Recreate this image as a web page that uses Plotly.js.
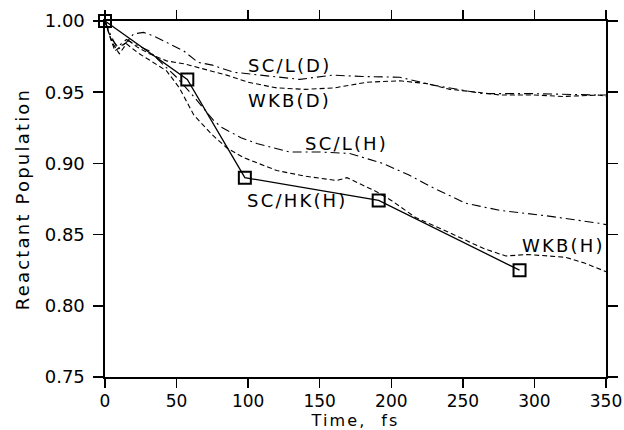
<!DOCTYPE html>
<html>
<head>
<meta charset="utf-8">
<script src="https://cdn.plot.ly/plotly-3.0.1.min.js"></script>
<style>
  html, body { margin: 0; padding: 0; background: #fff; }
  #chart { width: 624px; height: 430px; }
  .annotation-text, .xtitle, .ytitle { letter-spacing: 2.2px; }
</style>
</head>
<body>
<div id="chart"></div>
<script>
// ---- data ----
const scHkT = [0, 57.5, 97.7, 191.2, 289.6];
const scHkV = [1.000, 0.959, 0.890, 0.874, 0.825];

const scLDT = [0, 4, 9, 15, 20, 27, 35, 45, 55, 65, 75, 90, 110, 136, 159, 180, 206, 229, 264, 299, 345, 350];
const scLDV = [1.000, 0.990, 0.980, 0.985, 0.991, 0.992, 0.989, 0.984, 0.979, 0.971, 0.969, 0.964, 0.962, 0.959, 0.962, 0.961, 0.9605, 0.955, 0.949, 0.949, 0.948, 0.948];

const wkbDT = [0, 3, 7, 12, 17, 22, 31, 43, 55, 66, 85, 100, 120, 140, 160, 183, 206, 225, 241, 260, 276, 300, 320, 345, 350];
const wkbDV = [1.000, 0.990, 0.979, 0.983, 0.986, 0.982, 0.977, 0.972, 0.970, 0.967, 0.962, 0.957, 0.953, 0.952, 0.953, 0.957, 0.958, 0.956, 0.952, 0.950, 0.948, 0.948, 0.947, 0.948, 0.947];

const scLHT = [0, 4, 9, 15, 20, 31, 40, 50, 62, 76, 82, 95, 106, 129, 150, 171, 194, 212, 229, 252, 276, 310, 345, 350];
const scLHV = [1.000, 0.988, 0.982, 0.987, 0.984, 0.979, 0.970, 0.9605, 0.947, 0.930, 0.925, 0.918, 0.914, 0.908, 0.908, 0.907, 0.900, 0.892, 0.883, 0.872, 0.867, 0.863, 0.858, 0.857];

const wkbHT = [0, 5, 10, 15, 20, 24, 32, 43, 52, 59, 62, 75, 85, 97, 120, 140, 162, 169, 180, 190, 200, 217, 235, 252, 265, 280, 295, 310, 322, 335, 345, 350];
const wkbHV = [1.000, 0.985, 0.977, 0.984, 0.980, 0.977, 0.972, 0.965, 0.953, 0.939, 0.934, 0.920, 0.911, 0.904, 0.895, 0.891, 0.888, 0.890, 0.885, 0.880, 0.874, 0.862, 0.854, 0.846, 0.840, 0.835, 0.836, 0.835, 0.834, 0.830, 0.826, 0.824];

const labelText = ['SC/L(D)', 'WKB(D)', 'SC/L(H)', 'SC/HK(H)', 'WKB(H)'];
const labelT = [129, 129, 168.6, 134.3, 320];
const labelV = [0.9688, 0.944, 0.9138, 0.874, 0.8423];

const xTicks = [0, 50, 100, 150, 200, 250, 300, 350];
const yTicks = [0.75, 0.80, 0.85, 0.90, 0.95, 1.00];
const yTickText = ['0.75', '0.80', '0.85', '0.90', '0.95', '1.00'];

// ---- chart ----
const FONT = 'DejaVu Sans, Arial, sans-serif';
const dashStyle = '5px,3px';
const dashDotStyle = '9px,4px,2px,4px';

const traces = [
  { x: scLDT, y: scLDV, mode: 'lines', name: 'SC/L(D)', line: { color: '#000', width: 1.1, dash: dashDotStyle } },
  { x: wkbDT, y: wkbDV, mode: 'lines', name: 'WKB(D)', line: { color: '#000', width: 1.1, dash: dashStyle } },
  { x: scLHT, y: scLHV, mode: 'lines', name: 'SC/L(H)', line: { color: '#000', width: 1.1, dash: dashDotStyle } },
  { x: wkbHT, y: wkbHV, mode: 'lines', name: 'WKB(H)', line: { color: '#000', width: 1.1, dash: dashStyle } },
  { x: scHkT, y: scHkV, mode: 'lines+markers', name: 'SC/HK(H)', cliponaxis: false,
    line: { color: '#000', width: 1.3 },
    marker: { symbol: 'square-open', size: 12, color: '#000', line: { width: 2, color: '#000' } } }
];

const annotations = labelText.map((t, i) => ({
  x: labelT[i], y: labelV[i], xref: 'x', yref: 'y', text: t, showarrow: false,
  xanchor: 'center', yanchor: 'middle', font: { family: FONT, size: 18, color: '#000' }
}));

const layout = {
  width: 624, height: 430,
  margin: { l: 105, r: 18, t: 20.5, b: 52.5 },
  paper_bgcolor: '#fff', plot_bgcolor: '#fff',
  showlegend: false,
  font: { family: FONT, size: 17, color: '#000' },
  xaxis: {
    range: [0, 350], tickvals: xTicks, ticktext: xTicks.map(String),
    showgrid: false, zeroline: false, showline: true, linecolor: '#000', linewidth: 1.6,
    mirror: 'ticks', ticks: 'outside', ticklen: 9, tickwidth: 1.5, tickcolor: '#000',
    ticklabelstandoff: -1,
    tickfont: { family: FONT, size: 17, color: '#000' },
    title: { text: 'Time,  fs', font: { family: FONT, size: 16, color: '#000' }, standoff: 6 }
  },
  yaxis: {
    range: [0.75, 1.0], tickvals: yTicks, ticktext: yTickText,
    showgrid: false, zeroline: false, showline: true, linecolor: '#000', linewidth: 1.6,
    mirror: 'ticks', ticks: 'outside', ticklen: 10, tickwidth: 1.5, tickcolor: '#000',
    ticklabelstandoff: 5,
    tickfont: { family: FONT, size: 18, color: '#000' },
    title: { text: 'Reactant Population', font: { family: FONT, size: 18, color: '#000' }, standoff: 10 }
  },
  annotations: annotations
};

Plotly.newPlot('chart', traces, layout, { staticPlot: true, displayModeBar: false });
</script>
</body>
</html>
